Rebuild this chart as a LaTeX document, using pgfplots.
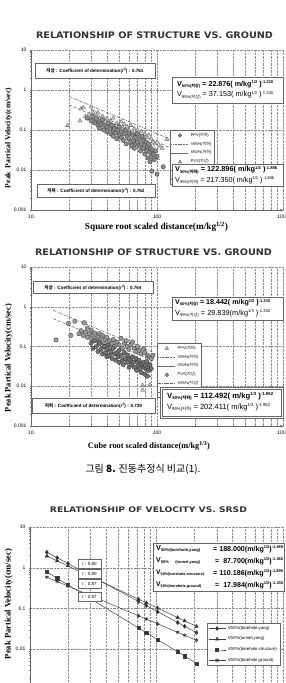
\documentclass[border=0pt]{standalone}
\usepackage{fontspec}
\usepackage{graphicx}
\usepackage{pgfplots}
\pgfplotsset{compat=1.18}
\setmainfont{Liberation Sans}
\newfontfamily\serif{Liberation Serif}
\newfontfamily\kr{Noto Sans CJK KR}
\newfontfamily\titlef{DejaVu Sans}
\newcommand\fs[1]{\fontsize{#1}{#1}\selectfont}
\newcommand\eqline[3]{\node[anchor=west, inner sep=0] at (#1) {\resizebox{#2}{!}{#3}};}
\newcommand\sups[1]{\raisebox{2.2pt}{\fs{3.4}#1}}
\newcommand\subs[1]{\raisebox{-1pt}{\fs{3.4}#1}}

\begin{document}
\begin{tikzpicture}
\useasboundingbox (0pt,0pt) rectangle (286pt,-683pt);
\fill[white] (0pt,0pt) rectangle (286pt,-683pt);

% ---------------- Chart 1 ----------------
\begin{axis}[xmode=log, ymode=log, scale only axis,
  xmin=10, xmax=1000, ymin=0.001, ymax=10,
  xtick={10,100,1000}, xticklabels={10,100,1000},
  ytick={0.001,0.01,0.1,1,10}, yticklabels={0.001,0.01,0.1,1,10},
  tick label style={font=\fs{5}},
  axis x line=bottom, axis y line=left,
  axis line style={black!60, line width=0.5pt},
  xmajorgrids, xminorgrids, ymajorgrids,
  major grid style={densely dotted, black!45, line width=0.45pt},
  minor grid style={densely dotted, black!45, line width=0.45pt},
  major tick length=2pt, minor tick length=1.2pt,
  at={(31pt,-210pt)}, anchor=south west, width=252pt, height=160pt,
  legend cell align=left,
  legend style={at={(0.552,0.5)}, anchor=north west, font=\fs{4}, draw=black!60, line width=0.4pt, inner sep=0.8pt}]
\addplot[only marks, mark=triangle*, mark size=2.4pt, mark options={fill=gray!45, draw=black!65, line width=0.3pt, solid}, forget plot] coordinates {
(19.5,0.13) (24.5,0.17) (25,0.34) (26,0.36) (27,0.22) (28,0.19) (29,0.25) (30,0.38) (30,0.21) (31,0.28)
(32,0.18) (33,0.24) (34,0.27) (35,0.2) (36,0.16) (37,0.22) (38,0.15) (40,0.19) (42,0.14) (43,0.17)
(45,0.2) (46,0.12) (48,0.15) (50,0.13) (52,0.16) (54,0.11) (55,0.14) (58,0.12) (60,0.1) (62,0.13)
(64,0.09) (66,0.11) (68,0.085) (70,0.1) (72,0.075) (75,0.09) (78,0.07) (80,0.08) (83,0.065) (86,0.075)
(90,0.06) (93,0.05) (96,0.045) (100,0.05) (105,0.04) (110,0.035) (120,0.059)};
\addplot[only marks, mark=*, mark size=2.2pt, mark options={fill=black!45, draw=black!75, line width=0.35pt, solid}, forget plot] coordinates {
(28,0.20) (30,0.17) (31,0.22) (32,0.15) (33,0.19) (34,0.13) (35,0.16) (35,0.11) (36,0.14) (37,0.18)
(38,0.10) (38,0.13) (40,0.12) (40,0.09) (41,0.15) (42,0.11) (43,0.08) (44,0.13) (45,0.095) (45,0.07)
(46,0.11) (47,0.085) (48,0.06) (49,0.10) (50,0.075) (50,0.12) (52,0.065) (52,0.09) (54,0.055) (55,0.08)
(56,0.10) (57,0.045) (58,0.07) (60,0.06) (60,0.085) (62,0.05) (63,0.04) (64,0.075) (65,0.055) (66,0.035)
(67,0.065) (68,0.045) (70,0.05) (70,0.08) (72,0.04) (73,0.06) (74,0.03) (75,0.045) (76,0.07) (78,0.035)
(79,0.055) (80,0.025) (80,0.042) (82,0.05) (83,0.03) (84,0.038) (85,0.02) (86,0.045) (87,0.028) (88,0.016)
(89,0.035) (90,0.022) (91,0.0094) (92,0.032) (94,0.025) (95,0.018) (97,0.03) (100,0.0079) (100,0.022) (112,0.012)};
\addplot[black!60, densely dotted, line width=0.6pt, forget plot] coordinates {(30,0.344) (105,0.0320)};
\addplot[black!60, line width=0.6pt, forget plot] coordinates {(30,0.1946) (105,0.0181)};
\addplot[black!60, dash pattern=on 3pt off 1pt on 0.8pt off 1pt, line width=0.6pt, forget plot] coordinates {(20,0.691) (125,0.0605)};
\addplot[black!60, dash pattern=on 3pt off 2pt, line width=0.6pt, forget plot] coordinates {(20,0.426) (125,0.0372)};
\addlegendimage{only marks, mark=*, mark size=1.8pt, mark options={fill=black!45, draw=black!75}}\addlegendentry{PPV({\kr 지하})}
\addlegendimage{black!60, densely dotted, line width=0.6pt}\addlegendentry{V95\%({\kr 지하})}
\addlegendimage{black!60, line width=0.6pt}\addlegendentry{V50\%({\kr 지하})}
\addlegendimage{only marks, mark=triangle*, mark size=2pt, mark options={fill=gray!45, draw=black!65}}\addlegendentry{PVS({\kr 지상})}
\addlegendimage{black!60, dash pattern=on 3pt off 1pt on 0.8pt off 1pt, line width=0.6pt}\addlegendentry{V95\%({\kr 지상})}
\addlegendimage{black!60, dash pattern=on 3pt off 2pt, line width=0.6pt}\addlegendentry{V50\%({\kr 지상})}
\end{axis}

% ---------------- Chart 2 ----------------
\begin{axis}[xmode=log, ymode=log, scale only axis,
  xmin=10, xmax=1000, ymin=0.001, ymax=10,
  xtick={10,100,1000}, xticklabels={10,100,1000},
  ytick={0.001,0.01,0.1,1,10}, yticklabels={0.001,0.01,0.1,1,10},
  tick label style={font=\fs{5}},
  axis x line=bottom, axis y line=left,
  axis line style={black!60, line width=0.5pt},
  xmajorgrids, xminorgrids, ymajorgrids,
  major grid style={densely dotted, black!45, line width=0.45pt},
  minor grid style={densely dotted, black!45, line width=0.45pt},
  major tick length=2pt, minor tick length=1.2pt,
  at={(31pt,-426pt)}, anchor=south west, width=252pt, height=159pt,
  legend cell align=left,
  legend style={at={(0.5,0.522)}, anchor=north west, font=\fs{4}, draw=black!60, line width=0.4pt, inner sep=0.8pt}]
\addplot[only marks, mark=*, mark size=2.2pt, mark options={fill=black!40, draw=black!75, line width=0.35pt, solid}, forget plot] coordinates {
(15.8,0.147) (19.8,0.38) (20.7,0.19) (22.3,0.43) (26.5,0.40) (24,0.21) (25,0.25) (26,0.19) (27,0.23) (28,0.17)
(28,0.29) (29,0.21) (30,0.26) (30,0.16) (31,0.19) (32,0.22) (33,0.15) (34,0.18) (35,0.21) (35,0.13)
(36,0.16) (37,0.19) (38,0.12) (39,0.15) (40,0.17) (41,0.11) (42,0.14) (43,0.09) (44,0.12) (45,0.15)
(46,0.1) (48,0.13) (50,0.11) (52,0.16) (53,0.09) (55,0.12) (57,0.14) (58,0.1) (60,0.085) (62,0.11)
(64,0.13) (66,0.09) (68,0.075) (70,0.1) (72,0.08) (75,0.065) (78,0.085) (80,0.07) (84,0.06) (87,0.055)
(90,0.05) (93,0.06)};
\addplot[only marks, mark=*, mark size=2.2pt, mark options={fill=black!55, draw=black!80, line width=0.35pt, solid}, forget plot] coordinates {
(30,0.12) (31,0.09) (32,0.14) (33,0.1) (34,0.075) (35,0.12) (36,0.085) (37,0.065) (38,0.1) (39,0.07)
(40,0.055) (40,0.085) (41,0.11) (42,0.06) (43,0.075) (44,0.05) (45,0.09) (46,0.065) (47,0.045) (48,0.07)
(49,0.055) (50,0.04) (50,0.08) (52,0.06) (53,0.045) (54,0.035) (55,0.07) (56,0.05) (58,0.04) (58,0.06)
(60,0.03) (60,0.05) (62,0.045) (63,0.035) (64,0.055) (65,0.04) (66,0.03) (68,0.05) (69,0.025) (70,0.04)
(71,0.032) (72,0.045) (73,0.028) (74,0.038) (75,0.022) (76,0.035) (78,0.03) (79,0.04) (80,0.02) (81,0.033)
(82,0.027) (83,0.042) (84,0.018) (85,0.03) (86,0.025) (88,0.035) (90,0.028)};
\addplot[only marks, mark=triangle*, mark size=2.4pt, mark options={fill=gray!45, draw=black!65, line width=0.3pt, solid}, forget plot] coordinates {(77,0.0105) (77,0.008) (88,0.011)};
\addplot[black!60, densely dotted, line width=0.6pt, forget plot] coordinates {(25,0.378) (90,0.031)};
\addplot[black!60, line width=0.6pt, forget plot] coordinates {(25,0.210) (90,0.0172)};
\addplot[black!60, dash pattern=on 3pt off 1pt on 0.8pt off 1pt, line width=0.6pt, forget plot] coordinates {(15,0.814) (93,0.0719)};
\addplot[black!60, dash pattern=on 3pt off 2pt, line width=0.6pt, forget plot] coordinates {(15,0.503) (93,0.0444)};
\addlegendimage{only marks, mark=triangle*, mark size=2pt, mark options={fill=gray!45, draw=black!65}}\addlegendentry{PPV({\kr 지하})}
\addlegendimage{black!60, densely dotted, line width=0.6pt}\addlegendentry{V95\%({\kr 지하})}
\addlegendimage{black!60, line width=0.6pt}\addlegendentry{V50\%({\kr 지하})}
\addlegendimage{only marks, mark=*, mark size=1.8pt, mark options={fill=black!40, draw=black!75}}\addlegendentry{PVS({\kr 지상})}
\addlegendimage{black!60, dash pattern=on 3pt off 1pt on 0.8pt off 1pt, line width=0.6pt}\addlegendentry{V95\%({\kr 지상})}
\addlegendimage{black!60, dash pattern=on 3pt off 2pt, line width=0.6pt}\addlegendentry{V50\%({\kr 지상})}
\end{axis}

% ---------------- Chart 3 ----------------
\begin{scope}
\clip (0pt,0pt) rectangle (286pt,-683pt);
\begin{axis}[xmode=log, ymode=log, scale only axis,
  xmin=10, xmax=1000, ymin=0.001, ymax=10,
  xtick={10,100,1000}, xticklabels={10,100,1000},
  ytick={0.001,0.01,0.1,1,10}, yticklabels={0.001,0.01,0.1,1,10},
  tick label style={font=\fs{5}},
  axis x line=bottom, axis y line=left,
  axis line style={black!60, line width=0.5pt},
  xmajorgrids, xminorgrids, ymajorgrids,
  major grid style={densely dotted, black!45, line width=0.45pt},
  minor grid style={densely dotted, black!45, line width=0.45pt},
  major tick length=2pt, minor tick length=1.2pt,
  at={(30pt,-690pt)}, anchor=south west, width=253pt, height=163pt,
  legend cell align=left,
  legend style={at={(0.70,0.411)}, anchor=north west, font=\fs{4.3}, draw=black!60, line width=0.4pt, inner sep=1pt, row sep=2pt}]
\addplot[black!75, line width=0.5pt, mark=diamond*, mark size=2pt, mark options={fill=black!80,solid}] coordinates {
(13.6,2.41) (16.4,1.76) (20,1.27) (72,0.149) (83,0.118) (102,0.0835) (147,0.0454) (167,0.0367) (207,0.0256)};
\addlegendentry{V50\%(borehole,yang)}
\addplot[black!75, line width=0.5pt, mark=triangle*, mark size=2pt, mark options={fill=black!80,solid}] coordinates {
(13.6,1.94) (16.4,1.477) (20,1.105) (72,0.170) (83,0.138) (102,0.1025) (147,0.0601) (167,0.0499) (207,0.0364)};
\addlegendentry{V50\%(tunnel,yang)}
\addplot[black!75, line width=0.5pt, mark=square*, mark size=1.6pt, mark options={fill=black!80,solid}] coordinates {
(13.6,0.783) (16.4,0.550) (20,0.377) (72,0.0333) (83,0.0254) (102,0.0172) (147,0.00862) (167,0.00676) (207,0.0045)};
\addlegendentry{V50\%(borehole,structure)}
\addplot[black!75, line width=0.5pt, mark=asterisk, mark size=1.9pt, mark options={solid, line width=0.7pt}] coordinates {
(13.6,0.589) (16.4,0.461) (20,0.355) (72,0.0663) (83,0.0551) (102,0.0420) (147,0.0261) (167,0.0220) (207,0.0166)};
\addlegendentry{V50\%(borehole,ground)}
\end{axis}
\end{scope}

% ---------------- Texts ----------------
\begin{scope}[x=1pt,y=-1pt]
\node[inner sep=0, text=black!80] at (154.5,35.7) {\resizebox{237pt}{6.7pt}{\titlef\bfseries RELATIONSHIP OF STRUCTURE VS. GROUND}};
\node[inner sep=0, text=black!80] at (153.5,252) {\resizebox{237pt}{6.7pt}{\titlef\bfseries RELATIONSHIP OF STRUCTURE VS. GROUND}};
\node[inner sep=0, text=black!80] at (148.5,509.5) {\resizebox{197pt}{5.7pt}{\titlef\bfseries RELATIONSHIP OF VELOCITY VS. SRSD}};
\node[inner sep=0, rotate=90] at (8.5,138) {\resizebox{100pt}{!}{\serif\bfseries Peak\ \ Partical Velocity(cm/sec)}};
\node[inner sep=0, rotate=90] at (8.5,358) {\resizebox{108pt}{!}{\serif\bfseries Peak Partical Velocity(cm/sec)}};
\node[inner sep=0, rotate=90] at (8.5,604) {\resizebox{110pt}{!}{\serif\bfseries Peak Partical Velocity(cm/sec)}};
\node[inner sep=0] at (156.5,227) {\resizebox{143pt}{!}{\serif\bfseries Square root scaled distance(m/kg\textsuperscript{1/2})}};
\node[inner sep=0] at (149,446) {\resizebox{122pt}{!}{\serif\bfseries Cube root scaled distance(m/kg\textsuperscript{1/3})}};
\node[inner sep=0] at (143,469) {\fs{10}\kr 그림 \textbf{8.} 진동추정식 비교(1).};

\node[draw=black!60, line width=0.5pt, fill=white, minimum width=120pt, minimum height=15pt, font=\fs{4.6}\bfseries] at (95,71) {{\kr 지상} : Coefficient of determination(\textit{r}\sups{2}) : 0.761};
\node[draw=black!60, line width=0.5pt, fill=white, minimum width=118pt, minimum height=13pt, font=\fs{4.6}\bfseries] at (96,190.5) {{\kr 지하} : Coefficient of determination(\textit{r}\sups{2}) : 0.762};
\draw[black!60, line width=0.5pt, fill=white] (172,77) rectangle (283,103);
\eqline{177,84.5}{96pt}{\fs{6}\bfseries V\subs{50\%({\kr 지상})} = 22.876( m/kg\sups{1/2} )\sups{-1.330}}
\eqline{177,95}{96pt}{\fs{6}V\subs{95\%({\kr 지상})} = 37.153( m/kg\sups{1/2} )\sups{-1.330}}
\draw[black!60, line width=0.5pt, fill=white] (172,164) rectangle (283,186);
\eqline{175,170}{102pt}{\fs{6}\bfseries V\subs{50\%({\kr 지하})} = 122.896( m/kg\sups{1/2} )\sups{-1.896}}
\eqline{175,180.5}{99pt}{\fs{6}V\subs{95\%({\kr 지하})} = 217.350( m/kg\sups{1/2} )\sups{-1.896}}

\node[draw=black!60, line width=0.5pt, fill=white, minimum width=120pt, minimum height=12pt, font=\fs{4.6}\bfseries] at (93,287.5) {{\kr 지상} : Coefficient of determination(\textit{r}\sups{2}) : 0.764};
\node[draw=black!60, line width=0.5pt, fill=white, minimum width=123pt, minimum height=15pt, font=\fs{4.6}\bfseries] at (93.5,405.5) {{\kr 지하} : Coefficient of determination(\textit{r}\sups{2}) : 0.739};
\draw[black!60, line width=0.5pt, fill=white] (172,297) rectangle (283,320);
\eqline{175,303}{95pt}{\fs{6}\bfseries V\subs{50\%({\kr 지상})} = 18.442( m/kg\sups{1/3} )\sups{-1.330}}
\eqline{175,313.5}{95pt}{\fs{6}V\subs{95\%({\kr 지상})} = 29.839(m/kg\sups{1/3} )\sups{-1.330}}
\draw[black!60, line width=0.5pt, fill=white] (160,387) rectangle (283,418);
\draw[black!60, line width=0.4pt] (162,389) rectangle (281,416);
\eqline{167,396.5}{106pt}{\fs{6}\bfseries V\subs{50\%({\kr 지하})} = 112.492( m/kg\sups{1/3} )\sups{-1.952}}
\eqline{167,407.5}{103pt}{\fs{6}V\subs{95\%({\kr 지하})} = 202.411( m/kg\sups{1/3} )\sups{-1.952}}

\draw[black!60, line width=0.5pt, fill=white] (153,543) rectangle (284,591);
\eqline{156,549}{44pt}{\fs{6}\bfseries V\subs{50\%(borehole,yang)}}
\eqline{156,561}{44pt}{\fs{6}\bfseries V\subs{50\%\ \ \ \ \ \ (tunnel,yang)}}
\eqline{156,573}{48pt}{\fs{6}\bfseries V\subs{50\%(borehole,structure)}}
\eqline{156,585}{45pt}{\fs{6}\bfseries V\subs{50\%(borehole,ground)}}
\eqline{213,549}{70pt}{\fs{6}\bfseries = 188.000(m/kg\sups{1/2})\sups{-1.669}}
\eqline{215,561}{68pt}{\fs{6}\bfseries = \ 87.700(m/kg\sups{1/2})\sups{-1.460}}
\eqline{213,573}{70pt}{\fs{6}\bfseries = 110.186(m/kg\sups{1/2})\sups{-1.895}}
\eqline{215,585}{68pt}{\fs{6}\bfseries = \ 17.984(m/kg\sups{1/2})\sups{-1.330}}
\foreach \yy/\rr in {563.5/0.80, 573.5/0.80, 583.5/0.87, 596.5/0.87}{
  \node[draw=black!60, line width=0.4pt, fill=white, minimum width=23pt, minimum height=9.5pt, inner sep=0, font=\fs{4.5}] at (89.5,\yy) {r : \rr};
}
\end{scope}
\end{tikzpicture}
\end{document}
